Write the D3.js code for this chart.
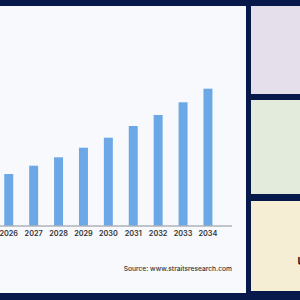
<!DOCTYPE html>
<html>
<head>
<meta charset="utf-8">
<script src="https://cdn.jsdelivr.net/npm/d3@7"></script>
<style>
  html, body { margin: 0; padding: 0; background: #06194a; }
  svg { display: block; }
</style>
</head>
<body>
<div id="chart"></div>
<script>
// values (market size, arbitrary units)
const years = ["2026", "2027", "2028", "2029", "2030", "2031", "2032", "2033", "2034"];
const values = [5.15, 5.98, 6.82, 7.78, 8.78, 9.95, 11.05, 12.32, 13.68];
const sourceText = "Source: www.straitsresearch.com";

const data = years.map((y, i) => ({ year: y, value: values[i] }));

const width = 300;
const height = 300;
const navy = "#06194a";
const font = "Inter, 'Liberation Sans', Arial, sans-serif";

const svg = d3.select("#chart")
  .append("svg")
  .attr("width", width)
  .attr("height", height);

svg.append("rect")
  .attr("width", width)
  .attr("height", height)
  .attr("fill", navy);

// main white card
svg.append("rect")
  .attr("x", 0)
  .attr("y", 6)
  .attr("width", 246)
  .attr("height", 287)
  .attr("fill", "#f7f9fd");

// side panels
const panels = [
  { y: 6, h: 88, fill: "#e4dfeb" },
  { y: 100, h: 94, fill: "#e3ebdc" },
  { y: 201, h: 90, fill: "#f6eed4" }
];
svg.selectAll(".panel")
  .data(panels)
  .enter()
  .append("rect")
  .attr("class", "panel")
  .attr("x", 251)
  .attr("y", d => d.y)
  .attr("width", 49)
  .attr("height", d => d.h)
  .attr("fill", d => d.fill);

// start of a word in the right panel, cut by the frame edge as in the source
svg.append("text")
  .attr("x", 297.5)
  .attr("y", 264.5)
  .style("font-family", font)
  .style("font-weight", "bold")
  .style("font-size", "10px")
  .style("fill", "#111")
  .text("U");

const baseline = 225.5;

const xScale = d3.scaleBand()
  .domain(years)
  .range([-3.7, 220.4])
  .paddingInner(0.64)
  .paddingOuter(0.32);

const yScale = d3.scaleLinear()
  .domain([0, 15])
  .range([baseline, baseline - 150]);

svg.selectAll(".bar")
  .data(data)
  .enter()
  .append("rect")
  .attr("class", "bar")
  .attr("x", d => xScale(d.year))
  .attr("y", d => yScale(d.value))
  .attr("width", xScale.bandwidth())
  .attr("height", d => yScale(0) - yScale(d.value))
  .attr("fill", "#6ba8e5");

svg.append("line")
  .attr("x1", 0)
  .attr("x2", 232)
  .attr("y1", baseline + 0.5)
  .attr("y2", baseline + 0.5)
  .attr("stroke", "#8a8f99")
  .attr("stroke-width", 1);

const xAxis = d3.axisBottom(xScale).tickSize(0).tickPadding(5);

const axisG = svg.append("g")
  .attr("transform", `translate(0, ${baseline})`)
  .call(xAxis);

axisG.select(".domain").remove();
axisG.selectAll(".tick text")
  .style("font-family", font)
  .style("font-weight", "600")
  .style("font-size", "7.3px")
  .style("fill", "#333");

svg.append("text")
  .attr("x", 232)
  .attr("y", 270.5)
  .attr("text-anchor", "end")
  .style("font-family", font)
  .style("font-weight", "500")
  .style("font-size", "6.7px")
  .style("fill", "#333")
  .text(sourceText);
</script>
</body>
</html>
